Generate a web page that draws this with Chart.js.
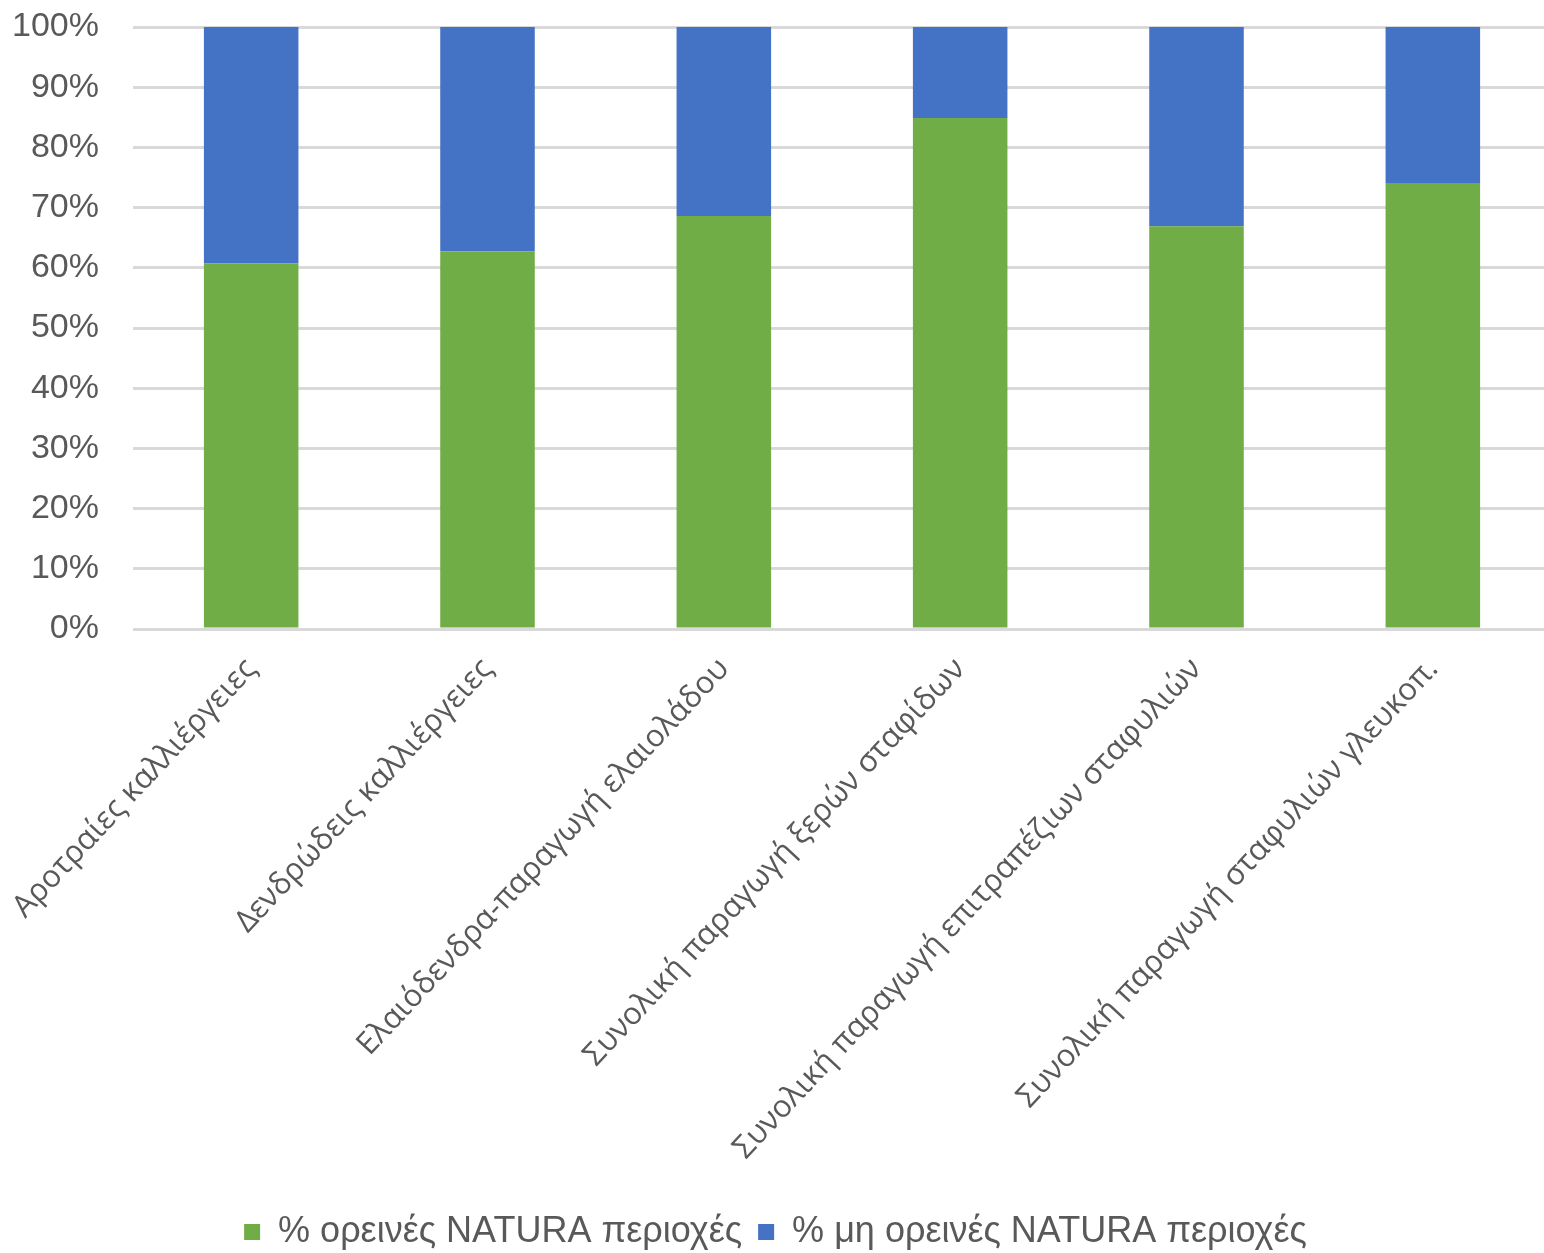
<!DOCTYPE html>
<html>
<head>
<meta charset="utf-8">
<script src="https://cdn.jsdelivr.net/npm/chart.js@4/dist/chart.umd.min.js"></script>
<style>
  html, body { margin: 0; padding: 0; background: #fff; overflow: hidden; }
  #wrap { width: 1551px; height: 1253px; }
</style>
</head>
<body>
<div id="wrap"><canvas id="naturaChart"></canvas></div>
<script>
const categories = [
    'Αροτραίες καλλιέργειες',
    'Δενδρώδεις καλλιέργειες',
    'Ελαιόδενδρα-παραγωγή ελαιολάδου',
    'Συνολική παραγωγή ξερών σταφίδων',
    'Συνολική παραγωγή επιτραπέζιων σταφυλιών',
    'Συνολική παραγωγή σταφυλιών γλευκοπ.'
];
const mountainNatura = [60.7, 62.7, 68.6, 84.9, 66.9, 74.1];
const nonMountainNatura = [39.3, 37.3, 31.4, 15.1, 33.1, 25.9];
const yTicks = [0, 10, 20, 30, 40, 50, 60, 70, 80, 90, 100];

const axisFont = "'Liberation Sans', Arial, sans-serif";
const labelFont = "'Open Sans', 'Noto Sans', sans-serif";
const textColor = '#595959';

document.addEventListener('DOMContentLoaded', function () {
    initNaturaChart();
});

function initNaturaChart() {
    const ctx = document.getElementById('naturaChart')?.getContext('2d');
    if (!ctx) return;

    new Chart(ctx, {
        type: 'bar',
        data: {
            labels: categories,
            datasets: [
                {
                    label: '% ορεινές NATURA περιοχές',
                    data: mountainNatura,
                    backgroundColor: '#70AD47',
                    borderWidth: 0,
                    categoryPercentage: 1,
                    barPercentage: 0.4
                },
                {
                    label: '% μη ορεινές NATURA περιοχές',
                    data: nonMountainNatura,
                    backgroundColor: '#4472C4',
                    borderWidth: 0,
                    categoryPercentage: 1,
                    barPercentage: 0.4
                }
            ]
        },
        options: {
            responsive: true,
            maintainAspectRatio: false,
            animation: false,
            layout: { padding: { top: 27, left: 0, right: 0, bottom: -7 } },
            plugins: {
                legend: {
                    position: 'bottom',
                    labels: {
                        color: textColor,
                        font: { family: axisFont, size: 36 },
                        boxWidth: 16,
                        boxHeight: 16,
                        padding: 16
                    }
                },
                tooltip: { enabled: false }
            },
            scales: {
                x: {
                    stacked: true,
                    grid: { display: false },
                    border: { display: false },
                    ticks: {
                        color: textColor,
                        font: { family: labelFont, size: 31 },
                        minRotation: 47,
                        maxRotation: 47,
                        autoSkip: false,
                        padding: 14
                    },
                    afterFit: function (scale) {
                        scale.height = 569;
                        scale.paddingLeft = 0;
                        scale.paddingRight = 0;
                    }
                },
                y: {
                    stacked: true,
                    min: 0,
                    max: 100,
                    afterBuildTicks: function (scale) {
                        scale.ticks = yTicks.map(v => ({ value: v }));
                    },
                    grid: { color: '#d9d9d9', lineWidth: 3, drawTicks: false },
                    border: { display: false },
                    ticks: {
                        color: textColor,
                        font: { family: axisFont, size: 34 },
                        padding: 34,
                        callback: v => v + '%'
                    },
                    afterFit: function (scale) {
                        scale.width = 133;
                        scale.paddingTop = 0;
                        scale.paddingBottom = 0;
                    }
                }
            }
        }
    });
}
</script>
</body>
</html>
